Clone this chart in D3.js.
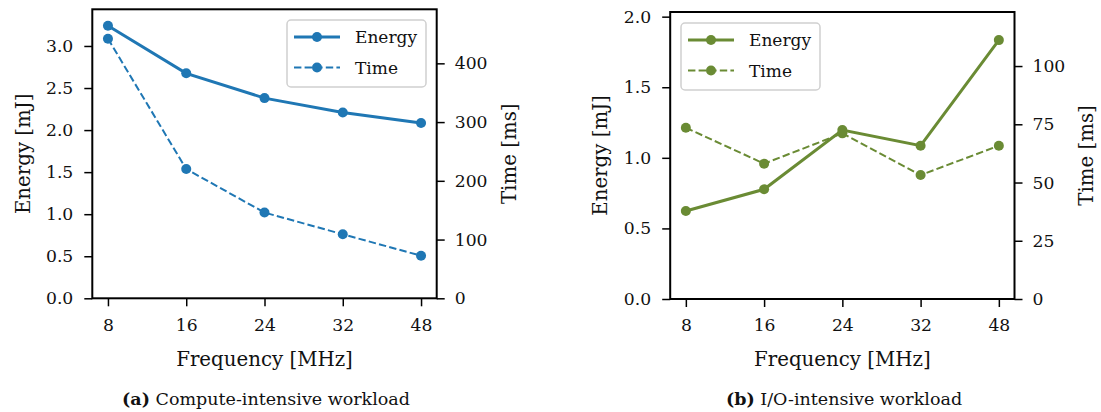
<!DOCTYPE html>
<html>
<head>
<meta charset="utf-8">
<script src="https://cdn.jsdelivr.net/npm/d3@7"></script>
<style>
	body { margin: 0; background: #fff; }
	svg text { font-family: "DejaVu Serif", serif; fill: #111; }
</style>
</head>
<body>
<svg id="chart" width="1101" height="412"></svg>
<script>
/*jshint esversion: 6 */

// data
var freqs = ["8", "16", "24", "32", "48"];
var computeEnergy = [3.24, 2.675, 2.38, 2.21, 2.085];
var computeTime = [442, 220, 146, 109, 72.5];
var ioEnergy = [0.623, 0.777, 1.197, 1.086, 1.834];
var ioTime = [73.5, 58.1, 71.1, 53.2, 65.8];

var computeEnergyTicks = [0, 0.5, 1.0, 1.5, 2.0, 2.5, 3.0];
var computeTimeTicks = [0, 100, 200, 300, 400];
var ioEnergyTicks = [0, 0.5, 1.0, 1.5, 2.0];
var ioTimeTicks = [0, 25, 50, 75, 100];

var svg = d3.select("#chart");


/*
 *	Draw one panel
 *	@param {Object} p - box, domains, data and colour for the panel
 */
function panel(p) {
	var g = svg.append("g");

	var x = d3.scalePoint()
		.domain(freqs)
		.range([p.left, p.right])
		.padding(0.2);
	var yE = d3.scaleLinear().domain([0, p.eMax]).range([p.bottom, p.top]);
	var yT = d3.scaleLinear().domain([0, p.tMax]).range([p.bottom, p.top]);

	//************ AXES ************

	var xAxis = d3.axisBottom(x).tickSizeOuter(0).tickSizeInner(8).tickPadding(12);
	g.append("g")
		.attr("class", "axis")
		.attr("transform", "translate(0," + p.bottom + ")")
		.call(xAxis);

	var leftAxis = d3.axisLeft(yE)
		.tickValues(p.eTicks)
		.tickFormat(d3.format(".1f"))
		.tickSizeOuter(0).tickSizeInner(8).tickPadding(11);
	g.append("g")
		.attr("class", "axis")
		.attr("transform", "translate(" + p.left + ",0)")
		.call(leftAxis);

	var rightAxis = d3.axisRight(yT)
		.tickValues(p.tTicks)
		.tickFormat(d3.format("d"))
		.tickSizeOuter(0).tickSizeInner(8).tickPadding(10);
	g.append("g")
		.attr("class", "axis")
		.attr("transform", "translate(" + p.right + ",0)")
		.call(rightAxis);

	g.selectAll(".axis .domain").remove();
	g.selectAll(".axis line").attr("stroke", "#000").attr("stroke-width", 1.5);
	g.selectAll(".axis text").attr("font-size", 17.2).attr("fill", "#111")
		.attr("font-family", "DejaVu Serif, serif");

	// frame
	g.append("rect")
		.attr("x", p.left).attr("y", p.top)
		.attr("width", p.right - p.left).attr("height", p.bottom - p.top)
		.attr("fill", "none").attr("stroke", "#000").attr("stroke-width", 2);

	//************ LABELS ************

	g.append("text")
		.attr("x", (p.left + p.right) / 2).attr("y", 366)
		.attr("text-anchor", "middle").attr("font-size", 19.8)
		.text("Frequency [MHz]");

	var midY = (p.top + p.bottom) / 2;
	g.append("text")
		.attr("transform", "translate(" + p.eLabelX + "," + midY + ") rotate(-90)")
		.attr("text-anchor", "middle").attr("dominant-baseline", "middle").attr("font-size", 19.8)
		.text("Energy [mJ]");
	g.append("text")
		.attr("transform", "translate(" + p.tLabelX + "," + midY + ") rotate(-90)")
		.attr("text-anchor", "middle").attr("dominant-baseline", "middle").attr("font-size", 19.8)
		.text("Time [ms]");

	var cap = g.append("text")
		.attr("x", p.capX).attr("y", 405)
		.attr("text-anchor", "middle").attr("font-size", 17.5);
	cap.append("tspan").attr("font-weight", "bold").text(p.tag);
	cap.append("tspan").text(" " + p.caption);

	//************ LINES ************

	var lineE = d3.line().x(function(d, i) { return x(freqs[i]); }).y(function(d) { return yE(d); });
	var lineT = d3.line().x(function(d, i) { return x(freqs[i]); }).y(function(d) { return yT(d); });

	g.append("path").datum(p.time)
		.attr("d", lineT).attr("fill", "none")
		.attr("stroke", p.color).attr("stroke-width", 2).attr("stroke-dasharray", "7.4,3.2");
	g.selectAll(".tdot").data(p.time).enter().append("circle")
		.attr("cx", function(d, i) { return x(freqs[i]); })
		.attr("cy", function(d) { return yT(d); })
		.attr("r", 5).attr("fill", p.color);

	g.append("path").datum(p.energy)
		.attr("d", lineE).attr("fill", "none")
		.attr("stroke", p.color).attr("stroke-width", 3);
	g.selectAll(".edot").data(p.energy).enter().append("circle")
		.attr("cx", function(d, i) { return x(freqs[i]); })
		.attr("cy", function(d) { return yE(d); })
		.attr("r", 5).attr("fill", p.color);

	//************ LEGEND ************

	var L = p.legend;
	g.append("rect")
		.attr("x", L.x).attr("y", L.y).attr("width", L.w).attr("height", L.h)
		.attr("rx", 4)
		.attr("fill", "#fff").attr("fill-opacity", 0.8)
		.attr("stroke", "#d0d0d0").attr("stroke-width", 1.5);

	var rows = [
		{ name: "Energy", width: 3, dash: null },
		{ name: "Time", width: 2, dash: "7.4,3.2" }
	];
	rows.forEach(function(r, i) {
		var ry = L.y + 17 + i * 30.5;
		g.append("line")
			.attr("x1", L.x + 7).attr("x2", L.x + 53)
			.attr("y1", ry).attr("y2", ry)
			.attr("stroke", p.color).attr("stroke-width", r.width)
			.attr("stroke-dasharray", r.dash);
		g.append("circle").attr("cx", L.x + 30).attr("cy", ry).attr("r", 5).attr("fill", p.color);
		g.append("text")
			.attr("x", L.x + 68).attr("y", ry)
			.attr("dominant-baseline", "central").attr("font-size", 17)
			.text(r.name);
	});
}


panel({
	left: 92.3, right: 436.7, top: 9.3, bottom: 298.3,
	eMax: 3.436, tMax: 492,
	eTicks: computeEnergyTicks, tTicks: computeTimeTicks,
	energy: computeEnergy, time: computeTime,
	color: "#1f77b4",
	eLabelX: 24.5, tLabelX: 510,
	capX: 266,
	tag: "(a)", caption: "Compute-intensive workload",
	legend: { x: 287, y: 20, w: 139, h: 67 }
});

panel({
	left: 670.2, right: 1014.5, top: 12, bottom: 299,
	eMax: 2.033, tMax: 123.2,
	eTicks: ioEnergyTicks, tTicks: ioTimeTicks,
	energy: ioEnergy, time: ioTime,
	color: "#6a8b34",
	eLabelX: 601, tLabelX: 1087,
	capX: 844,
	tag: "(b)", caption: "I/O-intensive workload",
	legend: { x: 681, y: 23, w: 139, h: 67 }
});
</script>
</body>
</html>
